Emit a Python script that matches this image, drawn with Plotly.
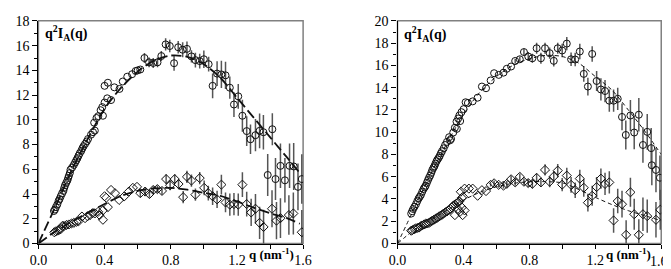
import plotly.graph_objects as go

# ---------------- LEFT PANEL DATA ----------------
left_circ_q = [0.094, 0.100, 0.106, 0.114, 0.122, 0.128, 0.135, 0.143, 0.151, 0.156, 0.161, 0.168,
               0.175, 0.180, 0.184, 0.190, 0.194, 0.204, 0.214, 0.222, 0.229, 0.236, 0.243, 0.250,
               0.259, 0.266, 0.273, 0.282, 0.292, 0.300, 0.318, 0.330, 0.341, 0.337, 0.351, 0.362,
               0.376, 0.386, 0.390, 0.400, 0.416, 0.439, 0.400, 0.420, 0.459, 0.490, 0.510, 0.537,
               0.566, 0.588, 0.600, 0.616,
               0.641, 0.669, 0.694, 0.720, 0.743, 0.769, 0.794, 0.820, 0.845, 0.872, 0.898, 0.925,
               0.949, 0.975, 1.000, 1.029, 1.053, 1.080, 1.106, 1.131, 1.157, 1.182, 1.208, 1.233,
               1.259, 1.282, 1.312, 1.337, 1.360, 1.386, 1.414, 1.433, 1.463, 1.490, 1.518, 1.543,
               1.569, 1.592]
left_circ_v = [2.63, 2.75, 2.94, 3.15, 3.44, 3.60, 3.82, 4.05, 4.25, 4.50, 4.71, 4.90,
               5.09, 5.30, 5.47, 5.70, 5.97, 6.15, 6.35, 6.55, 6.73, 6.90, 7.11, 7.30,
               7.49, 7.70, 7.87, 8.05, 8.25, 8.45, 8.80, 9.00, 9.13, 9.77, 10.15, 10.30,
               10.78, 11.03, 10.33, 11.40, 11.74, 11.60, 12.75, 13.00, 12.63, 12.50, 13.10, 13.49,
               13.69, 13.95, 14.00, 14.07,
               15.00, 14.65, 14.60, 14.65, 15.16, 16.10, 15.97, 14.58, 15.87, 15.67, 15.74, 15.13,
               14.83, 14.75, 14.90, 14.50, 12.75, 13.74, 13.67, 13.60, 12.60, 11.24, 11.90, 10.33,
               9.09, 8.43, 8.76, 9.11, 9.00, 5.54, 9.24, 5.21, 6.28, 5.11, 6.28, 6.23,
               4.58, 5.21]
left_circ_err = [0] * 52 + [
               0.4, 0.4, 0.4, 0.4, 0.4, 0.5, 0.5, 0.6, 0.5, 0.6, 0.6, 0.5,
               0.6, 0.6, 0.7, 0.6, 1.0, 1.0, 1.1, 1.1, 0.9, 1.0, 1.0, 1.3,
               1.2, 1.2, 1.3, 1.4, 1.4, 1.7, 1.3, 1.7, 1.8, 1.8, 1.8, 1.9,
               1.9, 2.0]

left_dia_q = [0.096, 0.105, 0.116, 0.125, 0.135, 0.145, 0.155, 0.170, 0.184, 0.200, 0.214, 0.230,
              0.243, 0.263, 0.282, 0.297, 0.312, 0.327, 0.341, 0.361, 0.370, 0.390, 0.390, 0.400,
              0.410, 0.420, 0.439, 0.463, 0.488, 0.518, 0.547, 0.571, 0.596, 0.616, 0.645, 0.671,
              0.694, 0.719, 0.747, 0.772, 0.796, 0.824, 0.847, 0.875, 0.898, 0.925, 0.949, 0.975,
              1.002, 1.027, 1.053, 1.080, 1.106, 1.131, 1.157, 1.182, 1.208, 1.233, 1.259, 1.286,
              1.312, 1.337, 1.361, 1.412, 1.439, 1.463, 1.514, 1.541, 1.592]
left_dia_v = [0.91, 0.98, 1.04, 1.10, 1.16, 1.42, 1.42, 1.50, 1.54, 1.62, 1.67, 1.75,
              1.80, 2.18, 2.05, 2.20, 2.30, 2.45, 2.43, 2.56, 2.30, 1.92, 2.68, 3.82,
              3.70, 2.94, 4.33, 4.07, 3.52, 3.80, 4.20, 4.50, 4.58, 4.07, 4.20, 4.00,
              4.33, 4.40, 4.25, 5.21, 4.71, 5.21, 4.81, 3.75, 5.39, 5.09, 3.95, 5.29,
              4.50, 4.07, 3.82, 3.57, 4.76, 3.32, 3.14, 3.19, 3.14, 4.76, 3.19, 2.51,
              2.81, 1.67, 1.34, 2.81, 1.85, 2.05, 2.30, 2.43, 0.91]
left_dia_err = [0] * 33 + [
              0.3, 0.3, 0.3, 0.3, 0.3, 0.3, 0.4, 0.4, 0.4, 0.4, 0.5, 0.5,
              0.5, 0.5, 0.5, 0.6, 0.6, 0.7, 0.7, 0.8, 0.8, 0.9, 0.9, 0.9,
              1.0, 1.0, 1.1, 1.2, 1.3, 1.4, 1.5, 1.5, 1.6, 1.6, 1.7, 1.8]

left_fit_q = [0.0, 0.1, 0.2, 0.3, 0.4, 0.5, 0.6, 0.7, 0.8, 0.9, 1.0, 1.1, 1.2, 1.3, 1.4, 1.5, 1.58]
left_fit_upper = [0.0, 2.9, 5.9, 8.5, 10.9, 12.6, 13.9, 14.8, 15.2, 15.1, 14.5, 13.4, 11.8, 10.2, 8.6, 7.0, 5.7]
left_fit_lower = [0.0, 0.95, 1.75, 2.5, 3.2, 3.85, 4.25, 4.45, 4.5, 4.35, 4.1, 3.85, 3.4, 2.9, 2.45, 2.05, 1.6]

# ---------------- RIGHT PANEL DATA ----------------
right_circ_q = [0.083, 0.089, 0.095, 0.103, 0.112, 0.120, 0.128, 0.135, 0.142, 0.150, 0.158, 0.165,
                0.171, 0.178, 0.185, 0.191, 0.198, 0.205, 0.211, 0.218, 0.224, 0.230, 0.237, 0.243,
                0.250, 0.256, 0.263, 0.270, 0.280, 0.289, 0.300, 0.313, 0.319, 0.325, 0.338, 0.348,
                0.360, 0.358, 0.368, 0.375, 0.380, 0.388, 0.401, 0.413, 0.427, 0.456, 0.486, 0.512,
                0.537, 0.565, 0.586, 0.614, 0.643, 0.663, 0.689,
                0.714, 0.742, 0.767, 0.793, 0.818, 0.844, 0.870, 0.895, 0.923, 0.948, 0.972, 0.999,
                1.027, 1.053, 1.078, 1.106, 1.130, 1.155, 1.181, 1.208, 1.234, 1.259, 1.285, 1.311,
                1.336, 1.362, 1.385, 1.413, 1.436, 1.464, 1.489, 1.515, 1.539, 1.543, 1.568, 1.592]
right_circ_v = [2.69, 2.90, 3.10, 3.30, 3.53, 3.80, 4.05, 4.20, 4.37, 4.65, 4.90, 5.05,
                5.20, 5.45, 5.70, 5.90, 6.10, 6.35, 6.60, 6.80, 6.95, 7.17, 7.40, 7.55,
                7.70, 7.87, 8.10, 8.29, 8.55, 8.85, 9.13, 9.55, 9.27, 9.40, 9.97, 10.40,
                10.30, 10.95, 11.23, 11.50, 11.00, 11.80, 12.07, 12.69, 12.63, 12.77, 13.10, 14.10,
                13.95, 14.65, 15.30, 15.15, 15.35, 15.70, 15.90,
                16.40, 16.55, 17.20, 16.80, 16.64, 17.54, 16.64, 17.54, 17.10, 16.41, 17.54, 17.34,
                17.96, 16.55, 16.53, 17.25, 15.24, 14.10, 17.03, 14.60, 13.84, 13.70, 12.83, 12.83,
                13.00, 11.37, 9.75, 11.50, 9.97, 11.57, 8.85, 10.03, 8.57, 7.03, 6.61, 5.91]
right_circ_err = [0] * 55 + [
                0.2, 0.25, 0.3, 0.4, 0.4, 0.5, 0.5, 0.5, 0.5, 0.5, 0.5, 0.6,
                0.6, 0.6, 0.6, 0.7, 0.7, 0.8, 0.7, 0.9, 1.0, 1.0, 1.0, 1.0,
                1.0, 1.2, 1.3, 1.4, 1.5, 1.5, 1.6, 1.6, 1.8, 1.8, 2.0, 2.0]

right_dia_q = [0.083, 0.090, 0.102, 0.110, 0.120, 0.130, 0.140, 0.150, 0.161, 0.170, 0.180, 0.191,
               0.200, 0.210, 0.220, 0.230, 0.240, 0.250, 0.260, 0.270, 0.279, 0.290, 0.300, 0.309,
               0.320, 0.330, 0.338, 0.348, 0.358, 0.368, 0.375, 0.390, 0.398, 0.348, 0.366, 0.378,
               0.390, 0.395, 0.407, 0.384, 0.407, 0.433, 0.456, 0.486, 0.512, 0.537,
               0.565, 0.586, 0.614, 0.643, 0.663, 0.689, 0.714, 0.742, 0.767, 0.793, 0.818, 0.844,
               0.870, 0.895, 0.923, 0.948, 0.972, 0.999, 1.027, 1.053, 1.078, 1.106, 1.130, 1.155,
               1.181, 1.208, 1.234, 1.259, 1.285, 1.311, 1.336, 1.362, 1.387, 1.413, 1.436, 1.464,
               1.489, 1.515, 1.568, 1.594]
right_dia_v = [1.15, 1.20, 1.29, 1.35, 1.40, 1.43, 1.55, 1.62, 1.71, 1.78, 1.80, 1.85,
               1.95, 2.05, 2.13, 2.22, 2.30, 2.41, 2.50, 2.58, 2.69, 2.80, 2.88, 2.97,
               3.10, 3.25, 3.39, 3.50, 3.60, 3.67, 3.80, 4.10, 4.20, 2.55, 3.11, 2.83,
               3.25, 2.55, 2.97, 4.65, 4.93, 4.93, 4.93, 4.29, 4.79, 4.71,
               5.27, 5.41, 5.27, 5.20, 5.36, 5.77, 5.49, 5.99, 5.55, 5.43, 5.36, 5.90,
               5.49, 6.61, 5.55, 6.02, 6.55, 5.29, 6.10, 5.27, 4.79, 5.83, 5.01, 3.67,
               4.29, 5.07, 5.83, 5.35, 5.49, 2.07, 3.81, 3.53, 0.78, 4.60, 2.63, 0.78,
               2.63, 2.46, 2.13, 3.03]
right_dia_err = [0] * 46 + [
               0.15, 0.25, 0.25, 0.25, 0.25, 0.3, 0.3, 0.3, 0.3, 0.35, 0.4, 0.4,
               0.4, 0.5, 0.5, 0.5, 0.6, 0.6, 0.7, 0.7, 0.7, 0.8, 0.8, 0.8,
               0.9, 0.9, 0.9, 1.0, 1.0, 1.1, 1.1, 1.2, 1.3, 1.3, 1.4, 1.4,
               1.5, 1.5, 1.6, 1.8]

right_fit_q = [0.0, 0.1, 0.2, 0.3, 0.4, 0.5, 0.6, 0.7, 0.8, 0.9, 1.0, 1.1, 1.2, 1.3, 1.4, 1.5, 1.6]
right_fit_upper = [0.0, 3.1, 6.2, 9.0, 11.6, 13.6, 15.0, 16.0, 16.6, 16.9, 16.8, 16.2, 15.0, 13.8, 12.0, 10.1, 8.0]
right_fit_lower = [0.0, 1.2, 2.1, 3.0, 3.9, 4.6, 5.1, 5.4, 5.55, 5.55, 5.45, 4.85, 4.15, 3.5, 2.95, 2.5, 2.05]

x_tickvals = [0.0, 0.2, 0.4, 0.6, 0.8, 1.0, 1.2, 1.4, 1.6]
x_ticktext = ["0.0", " ", "0.4", " ", "0.8", " ", "1.2", " ", "1.6"]
x_ticktext_right = ["0.0", " ", "0.4", " ", "0.8", " ", "1.2", " ", " "]
right_last_label = "1.6"
left_yticks = [0, 2, 4, 6, 8, 10, 12, 14, 16, 18]
right_yticks = [0, 2, 4, 6, 8, 10, 12, 14, 16, 18, 20]

# ---------------- FIGURE ----------------
W, H = 671, 269
FONT = "Liberation Serif, Times New Roman, serif"
fig = go.Figure()

def add_panel(xa, ya, cq, cv, ce, dq, dv, de, fq, fu, fl, dash, lw):
    err_style = dict(type="data", visible=True, thickness=1.5, width=0, color="#555555")
    for (q, v, e, sym) in [(cq, cv, ce, "circle-open"), (dq, dv, de, "diamond-open")]:
        fig.add_trace(go.Scatter(
            x=q, y=v, mode="markers", xaxis=xa, yaxis=ya, showlegend=False,
            error_y=dict(array=e, **err_style),
            marker=dict(symbol=sym, size=7, color="#111111", line=dict(width=1.0, color="#111111")),
            cliponaxis=True))
    for f in (fu, fl):
        fig.add_trace(go.Scatter(
            x=fq, y=f, mode="lines", xaxis=xa, yaxis=ya, showlegend=False,
            line=dict(color="#111111", width=lw, dash=dash, shape="spline", smoothing=0.8)))

add_panel("x", "y", left_circ_q, left_circ_v, left_circ_err, left_dia_q, left_dia_v, left_dia_err,
          left_fit_q, left_fit_upper, left_fit_lower, "10px,4px", 1.8)
add_panel("x2", "y2", right_circ_q, right_circ_v, right_circ_err, right_dia_q, right_dia_v, right_dia_err,
          right_fit_q, right_fit_upper, right_fit_lower, "4px,3px", 1.0)

ydom = [(H - 242) / H, (H - 6) / H]
xdom1 = [22 / W, 294 / W]
xdom2 = [391 / W, 662 / W]

def xaxis(dom, texts):
    return dict(domain=dom, range=[0, 1.6], showgrid=False, zeroline=False,
                showline=True, linecolor="black", linewidth=1.2,
                ticks="outside", ticklen=4, tickwidth=1, tickcolor="black",
                tickvals=x_tickvals, ticktext=texts, ticklabelstandoff=0,
                ticklabeloverflow="allow",
                tickfont=dict(family=FONT, size=14, color="black"))

def yaxis(dom, top, vals, anchor):
    return dict(domain=dom, range=[0, top + 0.02], anchor=anchor, showgrid=False, zeroline=False,
                showline=True, linecolor="black", linewidth=1.2,
                ticks="outside", ticklen=5, tickwidth=1, tickcolor="black",
                tickvals=vals, ticktext=[str(v) for v in vals],
                ticklabeloverflow="allow",
                minor=dict(dtick=1, ticks="outside", ticklen=3, tickcolor="black"),
                tickfont=dict(family=FONT, size=14, color="black"))

fig.update_layout(
    width=W, height=H, margin=dict(l=0, r=0, t=0, b=0),
    paper_bgcolor="white", plot_bgcolor="white",
    xaxis=dict(**xaxis(xdom1, x_ticktext), anchor="y"),
    yaxis=yaxis(ydom, 18, left_yticks, "x"),
    xaxis2=dict(**xaxis(xdom2, x_ticktext_right), anchor="y2"),
    yaxis2=yaxis(ydom, 20, right_yticks, "x2"),
    shapes=[
        dict(type="rect", xref="x domain", yref="y domain", x0=0, x1=1, y0=0, y1=1,
             line=dict(color="#808080", width=1.5), layer="below"),
        dict(type="rect", xref="x2 domain", yref="y2 domain", x0=0, x1=1, y0=0, y1=1,
             line=dict(color="#808080", width=1.5), layer="below"),
    ],
    annotations=[
        dict(text="<b>q<sup>2</sup>I<sub>A</sub>(q)</b>", xref="x domain", yref="y domain",
             x=0.018, y=0.945, xanchor="left", yanchor="middle", showarrow=False,
             font=dict(family=FONT, size=14, color="black")),
        dict(text="<b>q<sup>2</sup>I<sub>A</sub>(q)</b>", xref="x2 domain", yref="y2 domain",
             x=0.018, y=0.94, xanchor="left", yanchor="middle", showarrow=False,
             font=dict(family=FONT, size=14, color="black")),
        dict(text="<b>q (nm<sup>-1</sup>)</b>", xref="paper", yref="paper",
             x=262 / W, y=1 - 253 / H, xanchor="center", yanchor="middle", showarrow=False,
             font=dict(family=FONT, size=13, color="black")),
        dict(text="<b>q (nm<sup>-1</sup>)</b>", xref="paper", yref="paper",
             x=628 / W, y=1 - 253 / H, xanchor="center", yanchor="middle", showarrow=False,
             font=dict(family=FONT, size=13, color="black")),
        dict(text=right_last_label, xref="paper", yref="paper",
             x=670 / W, y=1 - 261 / H, xanchor="right", yanchor="middle", showarrow=False,
             borderpad=0,
             font=dict(family=FONT, size=14, color="black")),
    ],
)

fig.write_html("out.html")
